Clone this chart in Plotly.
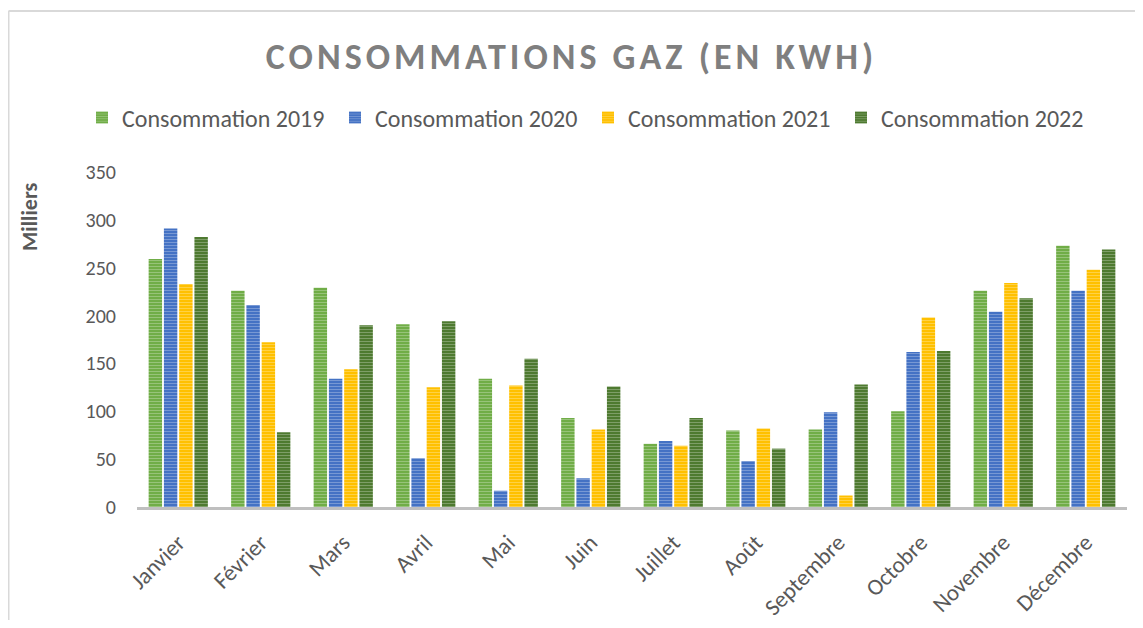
import plotly.graph_objects as go

months = ["Janvier", "Février", "Mars", "Avril", "Mai", "Juin", "Juillet",
          "Août", "Septembre", "Octobre", "Novembre", "Décembre"]
c2019 = [259, 226, 229, 191, 134, 93, 66, 80, 81, 100, 226, 273]
c2020 = [291, 211, 134, 51, 17, 30, 69, 48, 99, 162, 204, 226]
c2021 = [233, 172, 144, 125, 127, 81, 64, 82, 12, 198, 234, 248]
c2022 = [282, 78, 190, 194, 155, 126, 93, 61, 128, 163, 218, 269]
series_names = ["Consommation 2019", "Consommation 2020", "Consommation 2021", "Consommation 2022"]
colors = ["#70AD47", "#4472C4", "#FFC000", "#4E7A30"]
yticks = [0, 50, 100, 150, 200, 250, 300, 350]

FONT = "Carlito, Lato, 'Open Sans', sans-serif"

fig = go.Figure()
for name, vals, col in zip(series_names, [c2019, c2020, c2021, c2022], colors):
    fig.add_trace(go.Bar(
        name=name, x=months, y=vals,
        marker=dict(color=col, line=dict(width=0),
                    pattern=dict(shape="-", fgcolor="rgba(255,255,255,0.6)",
                                 size=3, solidity=0.3)),
    ))

# page has an 8px body margin; figure coords = page coords - 8
W, H = 1127, 612
L, R, T, B = 129, 8, 164, 113
pw, ph = W - L - R, H - T - B

def px_x(page_x):
    return (page_x - 8 - L) / pw

def px_y(page_y):
    return (H - B - (page_y - 8)) / ph

fig.update_layout(
    width=W, height=H,
    margin=dict(l=L, r=R, t=T, b=B, autoexpand=False),
    paper_bgcolor="white", plot_bgcolor="white",
    barmode="group", bargap=0.26, bargroupgap=0.12,
    font=dict(family=FONT, color="#595959"),
    title=dict(text='<span style="letter-spacing:4px">CONSOMMATIONS GAZ (EN KWH)</span>',
               x=0.5, xanchor="center", y=1 - 48 / H, yanchor="middle",
               font=dict(size=36, color="#7F7F7F", family=FONT, weight="bold")),
    legend=dict(orientation="h", x=px_x(82), xanchor="left", y=px_y(118),
                yanchor="middle", font=dict(size=24, color="#595959"),
                entrywidth=208, entrywidthmode="pixels",
                traceorder="normal", bgcolor="rgba(0,0,0,0)"),
    xaxis=dict(tickangle=-45, tickfont=dict(size=23, color="#595959"),
               showline=True, linecolor="#BFBFBF", linewidth=3, automargin=False,
               ticks="", showgrid=False, ticklabelstandoff=10),
    yaxis=dict(range=[0, 350], tickvals=yticks, showgrid=False, zeroline=False,
               automargin=False,
               tickfont=dict(size=20, color="#595959"), ticks="", ticklabelstandoff=20),
    showlegend=True,
)

fig.add_annotation(text="<b>Milliers</b>", xref="paper", yref="paper",
                   x=px_x(29), y=px_y(217), textangle=-90, showarrow=False,
                   xanchor="center", yanchor="middle",
                   font=dict(size=22, color="#595959", family=FONT))

# chart border (top and left edges)
bx = (0.5 - L) / pw
by = (H - B - 3) / ph
fig.add_shape(type="line", xref="paper", yref="paper",
              x0=bx, x1=(W - L) / pw, y0=by, y1=by,
              line=dict(color="#D9D9D9", width=2))
fig.add_shape(type="line", xref="paper", yref="paper",
              x0=bx, x1=bx, y0=by, y1=(-B) / ph,
              line=dict(color="#D9D9D9", width=2))

fig.write_html("out.html")
